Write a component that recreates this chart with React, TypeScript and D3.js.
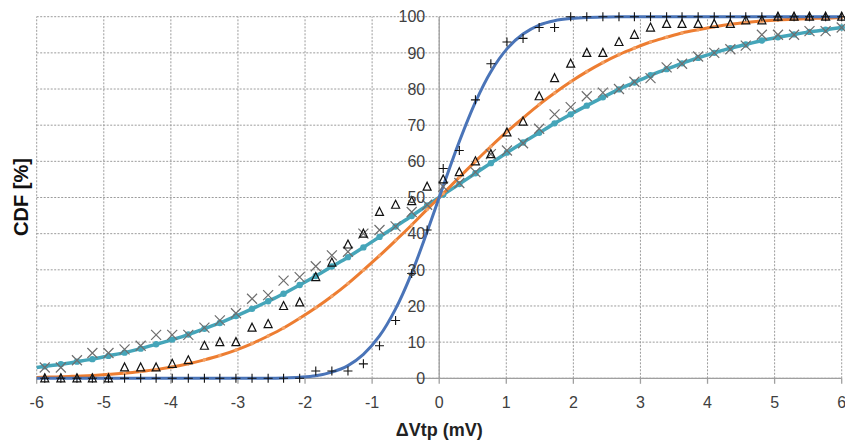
import * as d3 from "d3";
import React from "react";

// measured x positions (mV) of the sampled points
const X_POS = [
  -5.88, -5.64, -5.4, -5.17, -4.93, -4.69, -4.45, -4.22, -3.98, -3.74, -3.5,
  -3.27, -3.03, -2.79, -2.55, -2.32, -2.08, -1.84, -1.6, -1.36, -1.13, -0.89,
  -0.65, -0.41, -0.18, 0.06, 0.3, 0.54, 0.77, 1.01, 1.25, 1.49, 1.72, 1.96,
  2.2, 2.44, 2.68, 2.91, 3.15, 3.39, 3.62, 3.86, 4.1, 4.34, 4.57, 4.81, 5.05,
  5.29, 5.52, 5.76, 6.0,
];

// measured CDF values (%) for each marker series
const PLUS_Y = [
  0, 0, 0, 0, 0, 0, 0, 0, 0, 0, 0, 0, 0, 0, 0, 0, 0, 2, 2, 2, 4, 9, 16, 29, 41,
  58, 63, 77, 87, 93, 94, 97, 97, 100, 100, 100, 100, 100, 100, 100, 100, 100,
  100, 100, 100, 100, 100, 100, 100, 100, 100,
];
const TRI_Y = [
  0, 0, 0, 0, 0, 3, 3, 3, 4, 5, 9, 10, 10, 14, 15, 20, 21, 28, 32, 37, 40, 46,
  48, 49, 53, 55, 57, 60, 62, 68, 71, 78, 83, 87, 90, 90, 93, 95, 97, 98, 98,
  98, 98, 98, 99, 99, 100, 100, 100, 100, 100,
];
const CROSS_Y = [
  3, 3, 5, 7, 7, 8, 9, 12, 12, 12, 14, 16, 18, 22, 23, 27, 28, 31, 34, 35, 40,
  41, 42, 46, 48, 53, 54, 57, 62, 63, 65, 69, 73, 75, 78, 79, 80, 82, 83, 86,
  87, 89, 90, 91, 92, 95, 95, 95, 96, 96, 97,
];

// fitted curves: first value at x = -6, then one per X_POS
const FIT_START = -6;
const BLUE_FIT = [
  0, 0, 0, 0, 0, 0, 0, 0, 0, 0, 0, 0, 0, 0, 0, 0, 0.1, 0.3, 0.7, 1.7, 3.5, 6.6,
  11.7, 19.2, 29.1, 40.5, 53.2, 65.5, 76.4, 84.8, 91.1, 95.2, 97.7, 98.9, 99.5,
  99.8, 99.9, 100, 100, 100, 100, 100, 100, 100, 100, 100, 100, 100, 100, 100,
  100, 100,
];
const ORANGE_FIT = [
  0.25, 0.3, 0.4, 0.6, 0.8, 1.1, 1.4, 1.9, 2.4, 3.1, 4.0, 5.1, 6.3, 7.8, 9.6,
  11.7, 13.9, 16.6, 19.5, 22.7, 26.2, 29.9, 33.9, 38.1, 42.4, 46.7, 51.1, 55.6,
  60.0, 64.1, 68.2, 72.0, 75.7, 78.9, 82.0, 84.8, 87.3, 89.5, 91.3, 93.0, 94.3,
  95.5, 96.4, 97.2, 97.9, 98.4, 98.8, 99.1, 99.3, 99.5, 99.6, 99.8,
];
const TEAL_FIT = [
  3.0, 3.3, 3.9, 4.6, 5.3, 6.2, 7.1, 8.2, 9.4, 10.7, 12.1, 13.7, 15.3, 17.2,
  19.2, 21.3, 23.4, 25.8, 28.3, 30.9, 33.5, 36.2, 39.1, 42.0, 44.9, 47.8, 50.8,
  53.7, 56.7, 59.5, 62.4, 65.2, 67.9, 70.5, 73.0, 75.4, 77.7, 79.9, 81.8, 83.8,
  85.5, 87.1, 88.6, 90.0, 91.3, 92.3, 93.4, 94.3, 95.1, 95.8, 96.4, 97.0,
];

const X_TICKS = [-6, -5, -4, -3, -2, -1, 0, 1, 2, 3, 4, 5, 6];
const Y_TICKS = [0, 10, 20, 30, 40, 50, 60, 70, 80, 90, 100];

const W = 845;
const H = 443;
const FONT = "'Liberation Sans', Arial, sans-serif";
const TXT = "#404040";

export default function App() {
  const x = d3.scaleLinear().domain([-6, 6]).range([36.7, 841.7]);
  const y = d3.scaleLinear().domain([0, 100]).range([378.3, 16.7]);
  const fitX = [FIT_START, ...X_POS];

  const line = d3
    .line<[number, number]>()
    .x((d) => x(d[0]))
    .y((d) => y(d[1]))
    .curve(d3.curveCatmullRom.alpha(0.5));

  const pts = (vals: number[]) => fitX.map((v, i) => [v, vals[i]] as [number, number]);

  return (
    <svg
      width={W}
      height={H}
      style={{ position: "absolute", left: 0, top: 0, background: "#fff" }}
      fontFamily={FONT}
    >
      {/* grid */}
      <g stroke="#9c9c9c" strokeWidth={1} strokeDasharray="2,1.5">
        {X_TICKS.map((t) => (
          <line key={"gx" + t} x1={x(t)} x2={x(t)} y1={y(0)} y2={y(100)} />
        ))}
        {Y_TICKS.map((t) => (
          <line key={"gy" + t} x1={x(-6)} x2={x(6)} y1={y(t)} y2={y(t)} />
        ))}
      </g>

      {/* axes */}
      <g stroke="#a0a0a0" strokeWidth={1.3}>
        <line x1={x(-6)} x2={x(6)} y1={y(0)} y2={y(0)} />
        <line x1={x(0)} x2={x(0)} y1={y(0)} y2={y(100)} />
        {X_TICKS.map((t) => (
          <line key={"tk" + t} x1={x(t)} x2={x(t)} y1={y(0)} y2={y(0) + 5.5} />
        ))}
      </g>

      {/* fitted curves */}
      <path d={line(pts(TEAL_FIT)) || ""} fill="none" stroke="#45a5b9" strokeWidth={3.5} />
      {X_POS.map((v, i) => (
        <circle key={"td" + i} cx={x(v)} cy={y(TEAL_FIT[i + 1])} r={3.2} fill="#45a5b9" />
      ))}
      <path d={line(pts(ORANGE_FIT)) || ""} fill="none" stroke="#ed7d31" strokeWidth={3} />
      {X_POS.map((v, i) => (
        <circle key={"od" + i} cx={x(v)} cy={y(ORANGE_FIT[i + 1])} r={1.8} fill="#f4a266" />
      ))}
      <path d={line(pts(BLUE_FIT)) || ""} fill="none" stroke="#4a74b8" strokeWidth={3} />

      {/* measured markers */}
      <g stroke="#6e6e6e" strokeWidth={1.2}>
        {X_POS.map((v, i) => {
          const cx = x(v);
          const cy = y(CROSS_Y[i]);
          return (
            <path key={"x" + i} d={`M${cx - 5},${cy - 5}L${cx + 5},${cy + 5}M${cx - 5},${cy + 5}L${cx + 5},${cy - 5}`} />
          );
        })}
      </g>
      <g stroke="#111" strokeWidth={1.2} fill="none">
        {X_POS.map((v, i) => {
          const cx = x(v);
          const cy = y(TRI_Y[i]);
          return (
            <path key={"t" + i} d={`M${cx},${cy - 4.5}L${cx + 4},${cy + 3.5}L${cx - 4},${cy + 3.5}Z`} />
          );
        })}
      </g>
      <g stroke="#111" strokeWidth={1.1}>
        {X_POS.map((v, i) => {
          const cx = x(v);
          const cy = y(PLUS_Y[i]);
          return (
            <path key={"p" + i} d={`M${cx - 4.5},${cy}L${cx + 4.5},${cy}M${cx},${cy - 4.5}L${cx},${cy + 4.5}`} />
          );
        })}
      </g>

      {/* tick labels */}
      <g fontSize={16} fill={TXT}>
        {Y_TICKS.map((t) => (
          <text key={"yl" + t} x={x(0) - 14} y={y(t)} dy="0.36em" textAnchor="end">
            {t}
          </text>
        ))}
        {X_TICKS.map((t) => (
          <text key={"xl" + t} x={x(t)} y={407.5} textAnchor="middle">
            {String(t)}
          </text>
        ))}
      </g>

      {/* axis titles */}
      <text x={x(0)} y={436} textAnchor="middle" fontSize={18} fontWeight="bold" fill="#222">
        ΔVtp (mV)
      </text>
      <text
        transform={`translate(28,${197}) rotate(-90)`}
        textAnchor="middle"
        fontSize={20}
        fontWeight="bold"
        fill="#111"
      >
        CDF [%]
      </text>
    </svg>
  );
}
